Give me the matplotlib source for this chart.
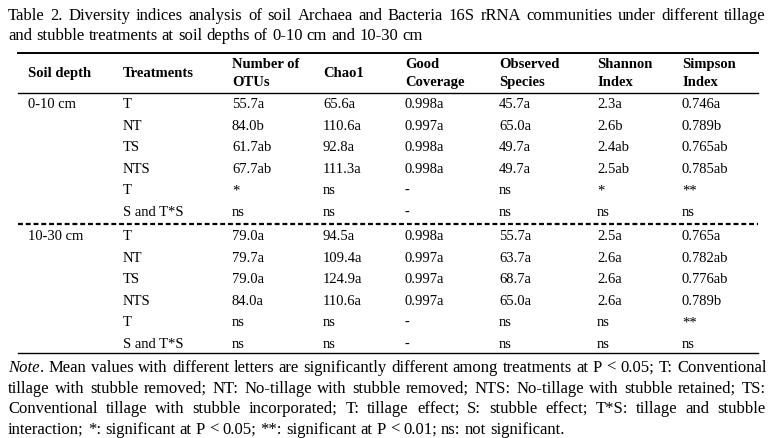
import matplotlib
matplotlib.use('Agg')
import matplotlib.pyplot as plt

# ---- table data ----
title_lines = [
    "Table 2. Diversity indices analysis of soil Archaea and Bacteria 16S rRNA communities under different tillage",
    "and stubble treatments at soil depths of 0-10 cm and 10-30 cm",
]
headers = [["Soil depth"], ["Treatments"], ["Number of", "OTUs"], ["Chao1"],
           ["Good", "Coverage"], ["Observed", "Species"], ["Shannon", "Index"],
           ["Simpson", "Index"]]
depths = ["0-10 cm", "10-30 cm"]
treatments = ["T", "NT", "TS", "NTS", "T", "S and T*S"]

otus_a = ["55.7a", "84.0b", "61.7ab", "67.7ab", "*", "ns"]
chao_a = ["65.6a", "110.6a", "92.8a", "111.3a", "ns", "ns"]
good_a = ["0.998a", "0.997a", "0.998a", "0.998a", "-", "-"]
obs_a = ["45.7a", "65.0a", "49.7a", "49.7a", "ns", "ns"]
shan_a = ["2.3a", "2.6b", "2.4ab", "2.5ab", "*", "ns"]
simp_a = ["0.746a", "0.789b", "0.765ab", "0.785ab", "**", "ns"]

otus_b = ["79.0a", "79.7a", "79.0a", "84.0a", "ns", "ns"]
chao_b = ["94.5a", "109.4a", "124.9a", "110.6a", "ns", "ns"]
good_b = ["0.998a", "0.997a", "0.997a", "0.997a", "-", "-"]
obs_b = ["55.7a", "63.7a", "68.7a", "65.0a", "ns", "ns"]
shan_b = ["2.5a", "2.6a", "2.6a", "2.6a", "ns", "ns"]
simp_b = ["0.765a", "0.782ab", "0.776ab", "0.789b", "**", "ns"]

note_lines = [
    "Note. Mean values with different letters are significantly different among treatments at P < 0.05; T: Conventional",
    "tillage with stubble removed; NT: No-tillage with stubble removed; NTS: No-tillage with stubble retained; TS:",
    "Conventional tillage with stubble incorporated; T: tillage effect; S: stubble effect; T*S: tillage and stubble",
    "interaction; *: significant at P < 0.05; **: significant at P < 0.01; ns: not significant.",
]

# ---- layout ----
FONT = "Liberation Serif"
BODY = 10.5
col_x = [28, 123, 232, 323, 405, 499, 597, 682]
fig = plt.figure(figsize=(7.84, 4.38), dpi=100)
ax = fig.add_axes([0, 0, 1, 1])
ax.set_xlim(0, 784)
ax.set_ylim(438, 0)
ax.axis('off')


def justify(line, x0, x1, y, size, last=False):
    r = fig.canvas.get_renderer()
    # width of one space, measured then thrown away
    t1 = ax.text(0, 0, "a a", fontsize=size, family=FONT)
    t2 = ax.text(0, 0, "aa", fontsize=size, family=FONT)
    space = t1.get_window_extent(r).width - t2.get_window_extent(r).width
    t1.remove()
    t2.remove()

    words = line.split(' ')
    texts = []
    for w in words:
        if w == "Note.":
            segs = [ax.text(0, y, "Note", fontsize=size, family=FONT, style='italic', va='baseline'),
                    ax.text(0, y, ".", fontsize=size, family=FONT, va='baseline')]
        else:
            segs = [ax.text(0, y, w, fontsize=size, family=FONT, va='baseline')]
        texts.append(segs)
    widths = [[s.get_window_extent(r).width for s in segs] for segs in texts]
    total = sum(sum(w) for w in widths)
    gap = space if last else (x1 - x0 - total) / (len(words) - 1)
    x = x0
    for segs, ws in zip(texts, widths):
        for s, w in zip(segs, ws):
            s.set_x(x)
            x += w + 0.5
        x += gap - 0.5


# title
justify(title_lines[0], 8, 766, 20.5, 12)
justify(title_lines[1], 8, 766, 40.5, 12, last=True)

# rules
ax.plot([18, 758], [53, 53], color='black', lw=1.4)
ax.plot([18, 758], [93, 93], color='black', lw=1.0)
ax.plot([18, 758], [224, 224], color='black', lw=1.6, ls=(0, (2.2, 1.3)))
ax.plot([18, 758], [353, 353], color='black', lw=1.0)

# headers
for x, h in zip(col_x, headers):
    if len(h) == 1:
        ax.text(x, 77, h[0], fontsize=BODY, family=FONT, weight='bold', va='baseline')
    else:
        ax.text(x, 68, h[0], fontsize=BODY, family=FONT, weight='bold', va='baseline')
        ax.text(x, 86, h[1], fontsize=BODY, family=FONT, weight='bold', va='baseline')

# body
blocks = [
    (depths[0], 108.5, [otus_a, chao_a, good_a, obs_a, shan_a, simp_a]),
    (depths[1], 240.5, [otus_b, chao_b, good_b, obs_b, shan_b, simp_b]),
]
row_h = 21.4
for depth, y0, cols in blocks:
    ax.text(col_x[0], y0, depth, fontsize=BODY, family=FONT, va='baseline')
    for i, t in enumerate(treatments):
        y = y0 + i * row_h
        ax.text(col_x[1], y, t, fontsize=BODY, family=FONT, va='baseline')
        for x, vals in zip(col_x[2:], cols):
            ax.text(x, y, vals[i], fontsize=BODY, family=FONT, va='baseline')

# note
for i, line in enumerate(note_lines):
    justify(line, 8, 766, 372 + i * 20.6, 12, last=(i == len(note_lines) - 1))

fig.savefig('out.png', dpi=100)
